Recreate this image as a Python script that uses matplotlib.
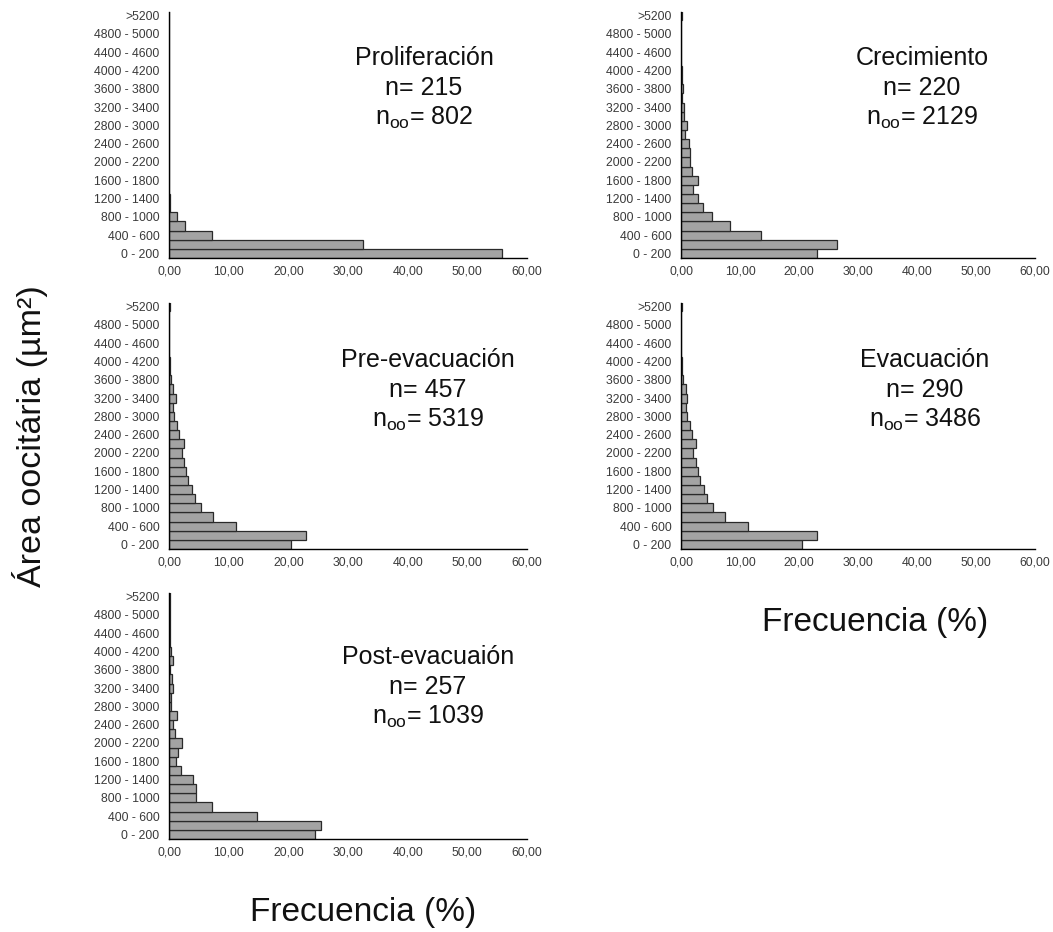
import matplotlib
matplotlib.use('Agg')
import matplotlib.pyplot as plt
import numpy as np

plt.rcParams['font.family'] = ['Liberation Sans', 'DejaVu Sans']
plt.rcParams['mathtext.fontset'] = 'custom'
plt.rcParams['mathtext.rm'] = 'Liberation Sans'
plt.rcParams['mathtext.it'] = 'Liberation Sans:italic'

# oocyte area classes (µm²), 200-wide bins plus an open top class
bins = [f'{a} - {a + 200}' for a in range(0, 5200, 200)] + ['>5200']

prolif = [55.8, 32.5, 7.2, 2.7, 1.4, 0.25, 0.1, 0, 0, 0, 0, 0, 0, 0,
          0, 0, 0, 0, 0, 0, 0, 0, 0, 0, 0, 0, 0]
crec = [23.0, 26.4, 13.5, 8.35, 5.3, 3.7, 2.9, 2.1, 2.9, 1.8, 1.6, 1.6, 1.3,
        0.6, 1.0, 0.45, 0.45, 0.2, 0.3, 0.1, 0.1, 0.05, 0.05, 0.05, 0.05,
        0.05, 0.15]
pre_evac = [20.4, 22.9, 11.3, 7.4, 5.4, 4.3, 3.8, 3.25, 2.8, 2.5, 2.1, 2.5,
            1.7, 1.4, 0.9, 0.7, 1.1, 0.7, 0.4, 0.15, 0.1, 0.05, 0.05, 0.05,
            0.05, 0.05, 0.1]
evac = [20.5, 23.1, 11.4, 7.5, 5.4, 4.4, 3.9, 3.3, 2.8, 2.5, 2.1, 2.5, 1.8,
        1.5, 1.0, 0.8, 1.1, 0.8, 0.4, 0.15, 0.1, 0.05, 0.05, 0.05, 0.05,
        0.05, 0.1]
post_evac = [24.5, 25.5, 14.8, 7.2, 4.6, 4.6, 4.1, 2.0, 1.2, 1.5, 2.2, 1.0,
             0.7, 1.3, 0.35, 0.35, 0.7, 0.5, 0.2, 0.7, 0.4, 0.2, 0.15, 0.15,
             0.15, 0.15, 0.15]

stages = ['Proliferación', 'Crecimiento', 'Pre-evacuación', 'Evacuación',
          'Post-evacuaión']
n_fish = [215, 220, 457, 290, 257]
n_oo = [802, 2129, 5319, 3486, 1039]
xticks = [0, 10, 20, 30, 40, 50, 60]

W, H = 1053, 932
fig = plt.figure(figsize=(W / 100, H / 100), dpi=100)
fig.patch.set_facecolor('white')


def px_axes(left, top, right, bottom):
    return fig.add_axes([left / W, 1 - bottom / H, (right - left) / W,
                         (bottom - top) / H])


# panel boxes in pixels: left, top, right, bottom, text centre x, text top y
panels = [
    (169, 12, 527, 258, 424, 58),
    (681, 12, 1035, 258, 922, 58),
    (169, 303, 527, 549, 428, 360),
    (681, 303, 1035, 549, 925, 360),
    (169, 593, 527, 839, 428, 657),
]
series = [prolif, crec, pre_evac, evac, post_evac]

y = np.arange(len(bins))
for (l, t, r, b, tx, ty), vals, name, n, noo in zip(panels, series, stages,
                                                     n_fish, n_oo):
    ax = px_axes(l, t, r, b)
    ax.barh(y, vals, height=1.0, color='#a3a3a3', edgecolor='#2a2a2a',
            linewidth=0.9, zorder=2)
    ax.set_xlim(0, 60)
    ax.set_ylim(-0.5, 26.4)
    ax.set_yticks(y[::2])
    ax.set_yticklabels(bins[::2])
    ax.set_xticks(xticks)
    ax.set_xticklabels([f'{v},00' for v in xticks])
    ax.tick_params(length=0, labelsize=8.8, colors='#3a3a3a')
    ax.tick_params(axis='x', pad=5.5)
    ax.tick_params(axis='y', pad=7)
    for s in ['top', 'right']:
        ax.spines[s].set_visible(False)
    for s in ['left', 'bottom']:
        ax.spines[s].set_color('black')
        ax.spines[s].set_linewidth(1.0)

    fig.text(tx / W, 1 - ty / H, name, ha='center', va='center',
             fontsize=18, color='#111111')
    fig.text(tx / W, 1 - (ty + 30) / H, f'n= {n}', ha='center',
             va='center', fontsize=18, color='#111111')
    fig.text(tx / W, 1 - (ty + 30 * 2) / H, r'n$_\mathrm{oo}$= ' + str(noo),
             ha='center', va='center', fontsize=18, color='#111111')

fig.text(30 / W, 1 - 436 / H, 'Área oocitária (µm²)', rotation=90,
         ha='center', va='center', fontsize=24.5, color='#111111')
fig.text(875 / W, 1 - 622 / H, 'Frecuencia (%)', ha='center', va='center',
         fontsize=24, color='#111111')
fig.text(363 / W, 1 - 913 / H, 'Frecuencia (%)', ha='center', va='center',
         fontsize=24, color='#111111')

fig.savefig('out.png', dpi=100, facecolor='white')
